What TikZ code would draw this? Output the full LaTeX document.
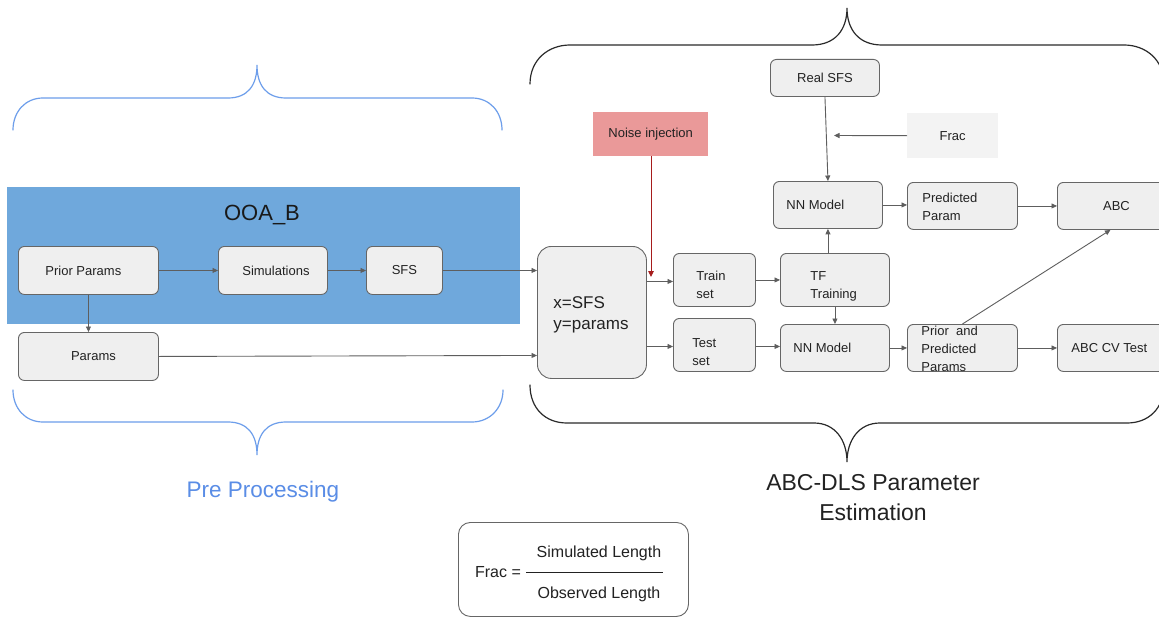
\documentclass[tikz,border=0pt]{standalone}
\usepackage{fontspec}
\setmainfont{Liberation Sans}
\usetikzlibrary{arrows.meta}
\definecolor{boxfill}{HTML}{EFEFEF}
\definecolor{linec}{HTML}{5E5E5E}
\definecolor{boxline}{HTML}{666666}
\definecolor{bluefill}{HTML}{6FA8DC}
\definecolor{noisefill}{HTML}{EA9999}
\definecolor{fracfill}{HTML}{F3F3F3}
\definecolor{redline}{HTML}{A61C1C}
\definecolor{braceblue}{HTML}{6D9EEB}
\definecolor{labelblue}{HTML}{5A8DE6}
\definecolor{txt}{HTML}{222222}
\definecolor{bracedark}{HTML}{2A2A2A}
\newcommand\bxt[3]{\raisebox{#3}[0pt][0pt]{\makebox[#1][l]{\begin{tabular}{@{}l@{}}#2\end{tabular}}}}
\begin{document}
\begin{tikzpicture}[x=1pt,y=-1pt,
  base/.style={font=\fontsize{13}{18}\selectfont, text=txt, inner sep=0pt},
  box/.style={base, draw=boxline, fill=boxfill, line width=0.9pt, rounded corners=6pt, anchor=north west},
  flat/.style={base, anchor=north west},
  conn/.style={draw=linec, line width=0.9pt, -{Triangle[length=5.5pt,width=5pt]}},
  brace/.style={line width=1.2pt, line cap=round},
]
\clip (0,0) rectangle (1159,618);
\fill[white] (0,0) rectangle (1159,618);

% braces
\draw[brace, draw=braceblue] (13,130) .. controls (13,112) and (25,98) .. (43,98) -- (228,98)
  .. controls (248,98) and (257,85) .. (257,65) .. controls (257,85) and (266,98) .. (286,98)
  -- (472,98) .. controls (490,98) and (502,112) .. (502,130);
\draw[brace, draw=braceblue] (13,390) .. controls (13,408) and (25,422) .. (43,422) -- (228,422)
  .. controls (248,422) and (257,435) .. (257,455) .. controls (257,435) and (266,422) .. (286,422)
  -- (472,422) .. controls (490,422) and (503,408) .. (503,390);
\draw[brace, draw=bracedark] (530,84) .. controls (530,60) and (548,45) .. (570,45) -- (812,45)
  .. controls (835,45) and (847,30) .. (847,8) .. controls (847,30) and (859,45) .. (882,45)
  -- (1124,45) .. controls (1146,45) and (1164,60) .. (1164,84);
\draw[brace, draw=bracedark] (530,385) .. controls (530,408) and (545,423) .. (567,423) -- (814,423)
  .. controls (835,423) and (847,440) .. (847,462) .. controls (847,440) and (859,423) .. (880,423)
  -- (1127,423) .. controls (1149,423) and (1164,408) .. (1164,385);

% pre processing block
\node[flat, fill=bluefill, minimum width=513pt, minimum height=137pt] (ooabox) at (7,187) {};
\node[base, font=\fontsize{22}{26}\selectfont, text=black!90] (ooa) at (262,215) {OOA\_B};
\node[box, minimum width=140pt, minimum height=48pt] (pp) at (18,246) {\makebox[120pt][l]{\hspace{17pt}Prior Params}};
\node[box, minimum width=109pt, minimum height=48pt] (sim) at (218,246) {\hspace{6pt}Simulations};
\node[box, minimum width=76pt, minimum height=48pt] (sfs) at (366,246) {SFS};
\node[box, minimum width=140pt, minimum height=48pt] (params) at (18,332) {\hspace{10pt}Params};

% ABC-DLS block
\node[box, rounded corners=14pt, minimum width=109pt, minimum height=132pt, font=\fontsize{17}{21}\selectfont] (xy) at (537,246) {\bxt{77pt}{x=SFS\\y=params}{-7pt}};
\node[flat, fill=noisefill, minimum width=115pt, minimum height=44pt] (noise) at (593,112) {Noise injection};
\node[box, minimum width=82pt, minimum height=53pt] (train) at (673,253) {\bxt{36pt}{Train\\set}{-8.75pt}};
\node[box, minimum width=82pt, minimum height=53pt] (test) at (673,318) {\bxt{44pt}{Test\\set}{-10.5pt}};
\node[box, minimum width=109pt, minimum height=53pt] (tf) at (780,253) {\bxt{49pt}{TF\\Training}{-9pt}};
\node[box, minimum width=109pt, minimum height=47pt] (nn2) at (780,324) {\makebox[83pt][l]{NN Model}};
\node[box, minimum width=109pt, minimum height=37pt] (realsfs) at (770,59) {Real SFS};
\node[flat, fill=fracfill, minimum width=91pt, minimum height=45pt] (frac) at (907,113) {Frac};
\node[box, minimum width=109pt, minimum height=47pt] (nn1) at (773,181) {\makebox[83pt][l]{NN Model}};
\node[box, minimum width=110pt, minimum height=47pt] (pred) at (907,182) {\bxt{80pt}{Predicted\\Param}{-4.75pt}};
\node[box, minimum width=118pt, minimum height=47pt] (abc) at (1057,182) {ABC};
\node[box, minimum width=110pt, minimum height=47pt] (prior) at (907,324) {\bxt{82pt}{Prior\ \ and\\Predicted\\Params}{-4.75pt}};
\node[box, minimum width=118pt, minimum height=47pt] (abccv) at (1057,324) {\makebox[90pt][l]{ABC CV Test}};

\coordinate (noiseend) at (651,277);
\coordinate (fracend) at (834,135.5);

% connectors
\draw[conn] (pp.east) -- (sim.west);
\draw[conn] (sim.east) -- (sfs.west);
\draw[conn] (sfs.east) -- (sfs.east -| xy.west);
\draw[conn] (pp.south) -- (params.north);
\draw[conn] (params.east) -- ([yshift=1pt]params.east -| xy.west);
\draw[conn] ([yshift=-1.5pt]train.west -| xy.east) -- ([yshift=-1.5pt]train.west);
\draw[conn] ([yshift=-1.5pt]test.west -| xy.east) -- ([yshift=-1.5pt]test.west);
\draw[draw=redline, line width=0.9pt, -{Triangle[length=6pt,width=5.5pt]}] (noise.south -| noiseend) -- (noiseend);
\draw[conn] (train.east) -- (train.east -| tf.west);
\draw[conn] ([yshift=-1.5pt]test.east) -- ([yshift=-1.5pt]test.east -| nn2.west);
\draw[conn] (nn1.south |- tf.north) -- (nn1.south);
\draw[conn] (tf.south) -- (nn2.north);
\draw[conn] (realsfs.south) -- (nn1.north);
\draw[conn] (frac.west) -- (fracend);
\draw[conn] (nn1.east) -- (nn1.east -| pred.west);
\draw[conn] (pred.east) -- (abc.west);
\draw[conn] (nn2.east) -- (prior.west);
\draw[conn] (prior.east) -- (abccv.west);
\draw[conn] (prior.north) -- ([xshift=-6pt]abc.south);

% labels
\node[base, font=\fontsize{22.5}{27}\selectfont, text=labelblue] (pre) at (263,492) {Pre Processing};
\node[base, font=\fontsize{23}{30}\selectfont, text=txt, align=center] (abcdls) at (873,498) {ABC-DLS Parameter\\Estimation};

% formula box
\node[flat, draw=boxline, fill=white, line width=0.9pt, rounded corners=12pt, minimum width=230pt, minimum height=94pt] (fbox) at (458,522) {};
\node[base, font=\fontsize{16}{19}\selectfont] (flhs) at (498,572) {Frac =};
\node[base, font=\fontsize{16}{19}\selectfont] (fnum) at (599,553) {Simulated Length};
\node[base, font=\fontsize{16}{19}\selectfont] (fden) at (599,594.5) {Observed Length};
\draw[draw=txt, line width=0.9pt] (526,572) -- (663,572);
\end{tikzpicture}
\end{document}
